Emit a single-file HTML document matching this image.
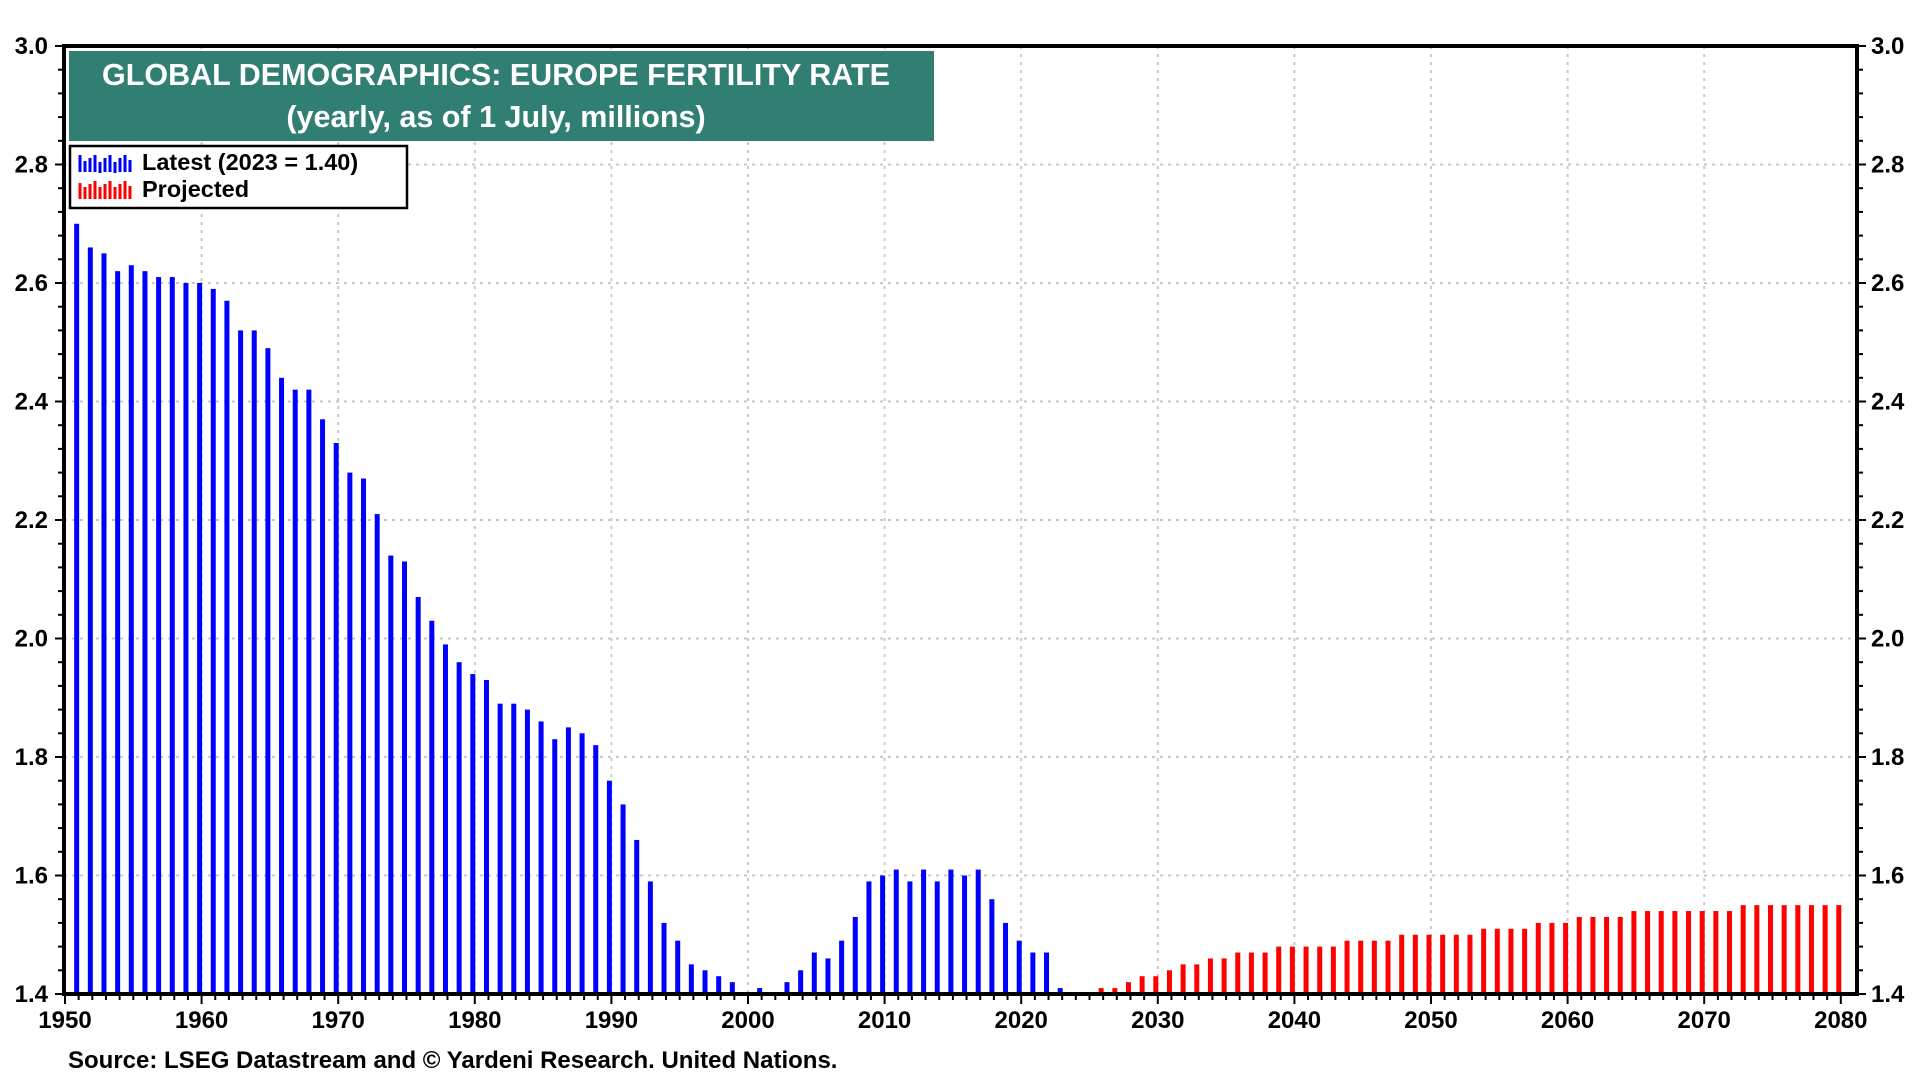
<!DOCTYPE html>
<html><head><meta charset="utf-8"><style>
html,body{margin:0;padding:0;background:#fff;}
svg{display:block;font-family:"Liberation Sans",Arial,sans-serif;font-weight:bold;}
</style></head><body>
<svg id="chart" width="1920" height="1080" viewBox="0 0 1920 1080">
<g id="grid"></g>
<g id="bars"></g>
<g id="axes"></g>
<rect x="64" y="46" width="1793" height="948" fill="none" stroke="#000" stroke-width="4"/>
<g>
<rect x="69" y="51" width="865" height="90" fill="#317f73"/>
<text x="496" y="85" text-anchor="middle" font-size="30.5" fill="#fff">GLOBAL DEMOGRAPHICS: EUROPE FERTILITY RATE</text>
<text x="496" y="127" text-anchor="middle" font-size="30.5" fill="#fff">(yearly, as of 1 July, millions)</text>
</g>
<g>
<rect x="70" y="146" width="337" height="62" fill="#fff" stroke="#000" stroke-width="2.5"/>
<g>
<path d="M80 155v17M85 161v11M90 158v14M95 155v17M100 162v11M105 158v14M110 155v17M115 162v11M120 158v14M125 155v17M130 160v12" stroke="#0000ff" stroke-width="3"/>
<text x="142" y="170" font-size="23.5" fill="#000">Latest (2023 = 1.40)</text>
</g>
<g>
<path d="M80 183v16M85 187v12M90 184v15M95 181v18M100 187v12M105 184v15M110 181v18M115 187v12M120 184v15M125 181v18M130 186v13" stroke="#ff0000" stroke-width="3"/>
<text x="142" y="197" font-size="23.5" fill="#000">Projected</text>
</g>
</g>
<text x="68" y="1068" font-size="24" fill="#000">Source: LSEG Datastream and © Yardeni Research. United Nations.</text>
<script>
const years = [];
for (let y = 1951; y <= 2080; y++) years.push(y);
const actualValues = [2.70,2.66,2.65,2.62,2.63,2.62,2.61,2.61,2.60,2.60,2.59,2.57,2.52,2.52,2.49,2.44,2.42,2.42,2.37,2.33,2.28,2.27,2.21,2.14,2.13,2.07,2.03,1.99,1.96,1.94,1.93,1.89,1.89,1.88,1.86,1.83,1.85,1.84,1.82,1.76,1.72,1.66,1.59,1.52,1.49,1.45,1.44,1.43,1.42,1.40,1.41,1.40,1.42,1.44,1.47,1.46,1.49,1.53,1.59,1.60,1.61,1.59,1.61,1.59,1.61,1.60,1.61,1.56,1.52,1.49,1.47,1.47,1.41];
const projectedValues = [1.40,1.40,1.41,1.41,1.42,1.43,1.43,1.44,1.45,1.45,1.46,1.46,1.47,1.47,1.47,1.48,1.48,1.48,1.48,1.48,1.49,1.49,1.49,1.49,1.50,1.50,1.50,1.50,1.50,1.50,1.51,1.51,1.51,1.51,1.52,1.52,1.52,1.53,1.53,1.53,1.53,1.54,1.54,1.54,1.54,1.54,1.54,1.54,1.54,1.55,1.55,1.55,1.55,1.55,1.55,1.55,1.55];
const yTicks = ["1.4","1.6","1.8","2.0","2.2","2.4","2.6","2.8","3.0"];
const xTicks = ["1950","1960","1970","1980","1990","2000","2010","2020","2030","2040","2050","2060","2070","2080"];

const NS = "http://www.w3.org/2000/svg";
const L = 64, R = 1857, T = 46, B = 994;
const x = yr => 65 + (yr - 1950) * 13.66;
const y = v => B - (v - 1.4) / 1.6 * (B - T);
function mk(tag, attrs, parent) {
  const e = document.createElementNS(NS, tag);
  for (const k in attrs) e.setAttribute(k, attrs[k]);
  parent.appendChild(e);
  return e;
}
const grid = document.getElementById('grid');
const bars = document.getElementById('bars');
const axes = document.getElementById('axes');

yTicks.forEach(t => {
  const v = parseFloat(t), yy = y(v);
  if (v > 1.4 && v < 3.0) {
    const g = mk('line', {x1: L, x2: R, y1: yy, y2: yy, stroke: '#c8c8c8', 'stroke-width': 2, 'stroke-dasharray': '3,5'}, grid);
    
    
  }
  const tl = mk('text', {x: 48, y: yy + 8, 'text-anchor': 'end', 'font-size': 24}, axes);
  tl.textContent = t;
  
  
  const tr = mk('text', {x: 1871, y: yy + 8, 'font-size': 24}, axes);
  tr.textContent = t;
  
  
});
for (let v = 1.4; v <= 3.0001; v += 0.04) {
  const yy = y(v), major = Math.abs((v - 1.4) / 0.2 - Math.round((v - 1.4) / 0.2)) < 0.01;
  const len = major ? 9 : 6;
  mk('line', {x1: L - len, x2: L, y1: yy, y2: yy, stroke: '#000', 'stroke-width': 2}, axes);
  mk('line', {x1: R, x2: R + len, y1: yy, y2: yy, stroke: '#000', 'stroke-width': 2}, axes);
}
xTicks.forEach(t => {
  const xx = x(parseInt(t));
  if (parseInt(t) > 1950 && parseInt(t) < 2080) {
    const g = mk('line', {x1: xx, x2: xx, y1: T, y2: B, stroke: '#c8c8c8', 'stroke-width': 2, 'stroke-dasharray': '3,5'}, grid);
    
    
  }
  const tx = mk('text', {x: xx, y: 1028, 'text-anchor': 'middle', 'font-size': 24}, axes);
  tx.textContent = t;
  
  
});
for (let yr = 1950; yr <= 2080; yr++) {
  const xx = x(yr), len = yr % 10 === 0 ? 10 : 6;
  mk('line', {x1: xx, x2: xx, y1: B, y2: B + len, stroke: '#000', 'stroke-width': 2}, axes);
}
actualValues.forEach((v, i) => {
  const b = mk('rect', {x: x(years[i]) - 4.5, y: y(v), width: 5, height: B - y(v), fill: '#0000ff'}, bars);
  
  
});
projectedValues.forEach((v, i) => {
  const yr = years[actualValues.length + i];
  const b = mk('rect', {x: x(yr) - 4.5, y: y(v), width: 5, height: B - y(v), fill: '#ff0000'}, bars);
  
  
});
</script>
</svg>
</body></html>
